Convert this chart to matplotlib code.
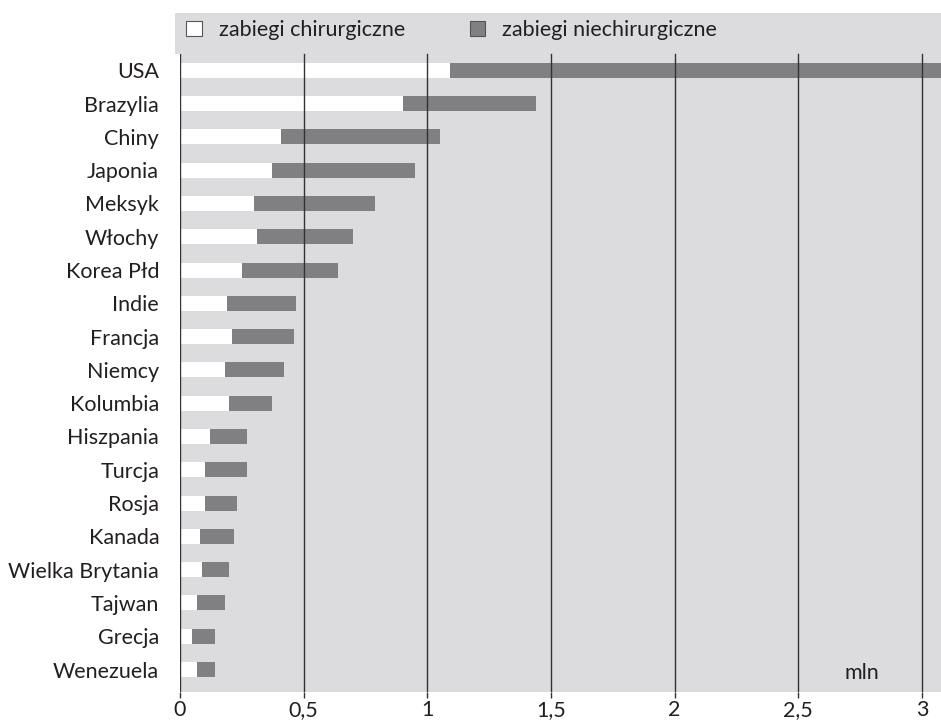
import matplotlib
matplotlib.use("Agg")
import matplotlib.pyplot as plt
from matplotlib.patches import Rectangle
import numpy as np

countries = ["USA", "Brazylia", "Chiny", "Japonia", "Meksyk", "Włochy", "Korea Płd",
             "Indie", "Francja", "Niemcy", "Kolumbia", "Hiszpania", "Turcja", "Rosja",
             "Kanada", "Wielka Brytania", "Tajwan", "Grecja", "Wenezuela"]
surgical = [1.09, 0.90, 0.41, 0.37, 0.30, 0.31, 0.25, 0.19, 0.21, 0.18, 0.20, 0.12,
            0.10, 0.10, 0.08, 0.09, 0.07, 0.05, 0.07]
nonsurgical = [2.05, 0.54, 0.64, 0.58, 0.49, 0.39, 0.39, 0.28, 0.25, 0.24, 0.17, 0.15,
               0.17, 0.13, 0.14, 0.11, 0.11, 0.09, 0.07]
xticks = [0, 0.5, 1, 1.5, 2, 2.5, 3]
xticklabels = ["0", "0,5", "1", "1,5", "2", "2,5", "3"]
legend_labels = ["zabiegi chirurgiczne", "zabiegi niechirurgiczne"]
unit_label = "mln"

W, H = 941, 722
bg_color = "#dcdcde"
dark = "#808083"
txt = "#231f20"
fs = 15.5

fig = plt.figure(figsize=(W / 100, H / 100), dpi=100)
fig.patch.set_facecolor("white")
# small extension of the grey band to the left of the legend strip
fig.patches.append(Rectangle((175 / W, (H - 54) / H), 6 / W, 41 / H,
                             transform=fig.transFigure, facecolor=bg_color,
                             edgecolor="none", zorder=0))
ax = fig.add_axes([180 / W, (H - 692) / H, (941 - 180) / W, (692 - 13) / H])
ax.set_facecolor(bg_color)

y = np.arange(len(countries))
b1 = ax.barh(y, surgical, height=0.45, color="white", linewidth=0, zorder=2,
             label=legend_labels[0])
b2 = ax.barh(y, nonsurgical, left=surgical, height=0.45, color=dark, linewidth=0,
             zorder=2, label=legend_labels[1])

ax.set_ylim(18.675, -1.72)
ax.set_xlim(0, 3.077)

for s in ax.spines.values():
    s.set_visible(False)

top_frac = (692 - 54) / (692 - 13)
for xv in xticks:
    ax.axvline(xv, ymin=0, ymax=top_frac, color="#333333", lw=1.0, zorder=3)

ax.set_xticks(xticks)
ax.set_xticklabels(xticklabels, fontfamily="Lato", fontsize=fs, color=txt)
ax.tick_params(axis="x", length=4, width=1.0, color="#333333", pad=2)
ax.set_yticks(y)
ax.set_yticklabels(countries, fontfamily="Lato", fontsize=fs, color=txt)
ax.tick_params(axis="y", length=0, pad=15)

leg = ax.legend(handles=[b1, b2], loc="center left", ncol=2, frameon=False,
                bbox_to_anchor=(0.0079, (692 - 30) / 679), borderaxespad=0, borderpad=0,
                prop={"family": "Lato", "size": fs},
                handlelength=0.72, handleheight=0.72, handletextpad=0.8,
                columnspacing=3.0, labelcolor=txt)
patches = leg.get_patches()
for p in patches:
    p.set_edgecolor("#555555")
    p.set_linewidth(0.8)

ax.text(2.758, 18.1, unit_label, fontfamily="Lato", fontsize=fs,
        color=txt, ha="center", va="center")

fig.savefig("out.png", dpi=100)
